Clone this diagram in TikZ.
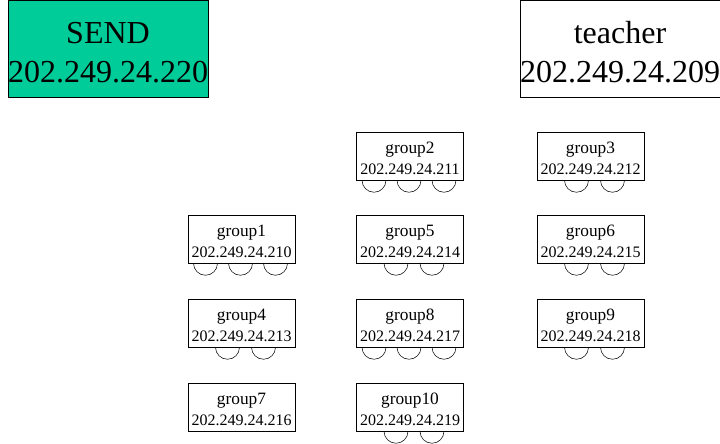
\documentclass[tikz,border=0pt]{standalone}
\usepackage{fontspec}
\setmainfont{Liberation Serif}
\usetikzlibrary{positioning}

\definecolor{sendgreen}{RGB}{0, 204, 153}

\tikzset{
  bigbox/.style={draw, minimum width=150pt, minimum height=72.75pt, inner sep=0pt,
    align=center, font=\fontsize{24}{29}\selectfont},
  grpbox/.style={draw, fill=white, minimum width=80pt, minimum height=36pt, inner sep=0pt,
    align=center, font=\fontsize{12}{16}\selectfont},
  chair/.style={draw, thin}
}

\begin{document}
\begin{tikzpicture}[x=0.75pt, y=-0.75pt]
  \useasboundingbox (0,0) rectangle (720,443);

  % Front: sender and teacher
  \node[bigbox, fill=sendgreen] (send) at (108, 48.5) {\rule{0pt}{22pt}SEND\\202.249.24.220};
  \node[bigbox] (teacher) at (620, 48.5) {\rule{0pt}{22pt}teacher\\202.249.24.209};

  % Group tables
  \node[grpbox] (g2) at (410, 156) {\rule{0pt}{12pt}{\fontsize{13}{16}\selectfont group2}\\202.249.24.211};
  \node[grpbox] (g3) at (590.5, 156) {\rule{0pt}{12pt}{\fontsize{13}{16}\selectfont group3}\\202.249.24.212};
  \node[grpbox] (g1) at (241.5, 239) {\rule{0pt}{12pt}{\fontsize{13}{16}\selectfont group1}\\202.249.24.210};
  \node[grpbox] (g5) at (410, 239) {\rule{0pt}{12pt}{\fontsize{13}{16}\selectfont group5}\\202.249.24.214};
  \node[grpbox] (g6) at (590.5, 239) {\rule{0pt}{12pt}{\fontsize{13}{16}\selectfont group6}\\202.249.24.215};
  \node[grpbox] (g4) at (241.5, 323) {\rule{0pt}{12pt}{\fontsize{13}{16}\selectfont group4}\\202.249.24.213};
  \node[grpbox] (g8) at (410, 323) {\rule{0pt}{12pt}{\fontsize{13}{16}\selectfont group8}\\202.249.24.217};
  \node[grpbox] (g9) at (590.5, 323) {\rule{0pt}{12pt}{\fontsize{13}{16}\selectfont group9}\\202.249.24.218};
  \node[grpbox] (g7) at (241.5, 407) {\rule{0pt}{12pt}{\fontsize{13}{16}\selectfont group7}\\202.249.24.216};
  \node[grpbox] (g10) at (410, 407) {\rule{0pt}{12pt}{\fontsize{13}{16}\selectfont group10}\\202.249.24.219};

  % Chairs, three per table
  \foreach \t in {g2, g1, g8}
    \foreach \dx in {-36, -1, 34}
      \draw[chair] ([xshift=\dx*0.75pt-9pt]\t.south) arc (180:360:9pt);

  % Chairs, two per table
  \foreach \t in {g3, g5, g6, g4, g9, g10}
    \foreach \dx in {-14, 22}
      \draw[chair] ([xshift=\dx*0.75pt-9pt]\t.south) arc (180:360:9pt);
\end{tikzpicture}
\end{document}
